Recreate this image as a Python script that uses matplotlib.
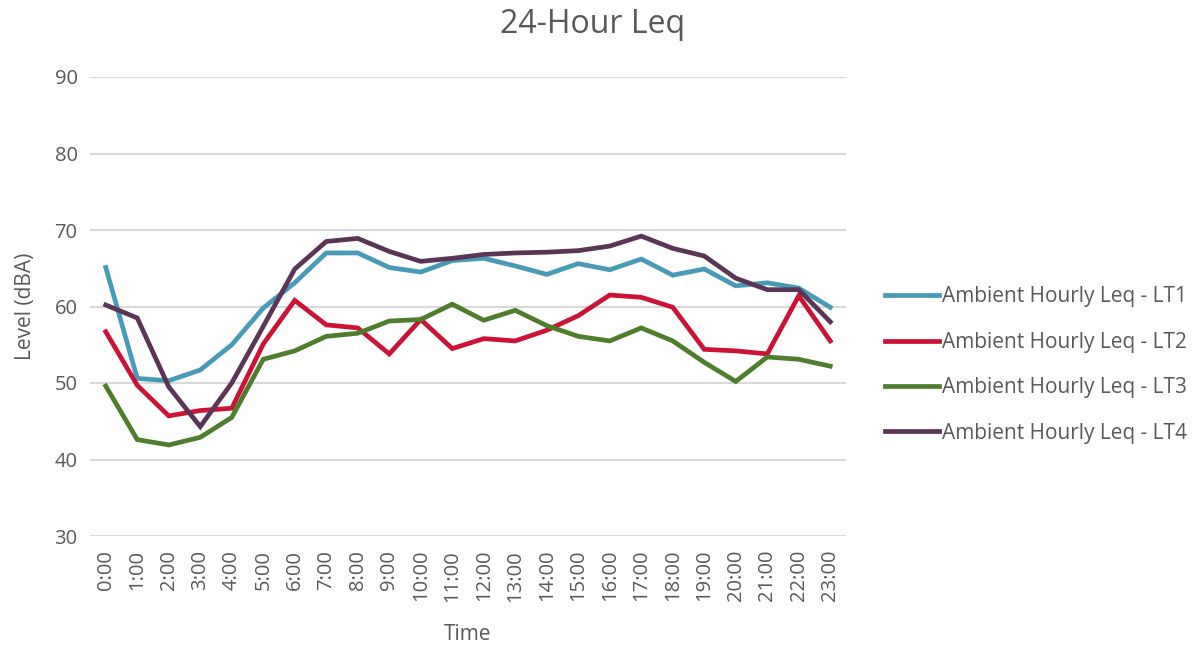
import matplotlib.pyplot as plt

hours = ['%d:00' % h for h in range(24)]

lt1 = [65.1, 50.6, 50.3, 51.7, 55.0, 59.8, 63.1, 67.0, 67.0, 65.1, 64.5, 66.0,
       66.3, 65.3, 64.2, 65.6, 64.8, 66.2, 64.1, 64.9, 62.7, 63.1, 62.4, 59.9]
lt2 = [56.7, 49.7, 45.7, 46.4, 46.7, 55.1, 60.8, 57.6, 57.2, 53.8, 58.3, 54.5,
       55.8, 55.5, 56.9, 58.8, 61.5, 61.2, 59.9, 54.4, 54.2, 53.8, 61.4, 55.5]
lt3 = [49.6, 42.6, 41.9, 42.9, 45.5, 53.1, 54.2, 56.1, 56.5, 58.1, 58.3, 60.3,
       58.2, 59.5, 57.5, 56.1, 55.5, 57.2, 55.5, 52.7, 50.2, 53.4, 53.1, 52.2]
lt4 = [60.2, 58.5, 49.5, 44.3, 50.0, 57.4, 64.9, 68.5, 68.9, 67.2, 65.9, 66.3,
       66.8, 67.0, 67.1, 67.3, 67.9, 69.2, 67.6, 66.6, 63.7, 62.2, 62.2, 58.0]

series = [
    ('Ambient Hourly Leq - LT1', lt1, '#479BB9'),
    ('Ambient Hourly Leq - LT2', lt2, '#CC1236'),
    ('Ambient Hourly Leq - LT3', lt3, '#4E7D2B'),
    ('Ambient Hourly Leq - LT4', lt4, '#5B3555'),
]

plt.rcParams['font.family'] = ['Open Sans', 'DejaVu Sans']
text_color = '#595959'

fig = plt.figure(figsize=(11.98, 6.46), dpi=100)
ax = fig.add_axes([90 / 1198, 1 - 536 / 646, 756 / 1198, 459 / 646])

x = range(len(hours))
for name, vals, col in series:
    ax.plot(x, vals, color=col, lw=3.4, label=name, solid_joinstyle='miter')

ax.set_xlim(-0.5, len(hours) - 0.5)
ax.set_ylim(30, 90)
ax.set_yticks(range(30, 91, 10))
ax.set_xticks(list(x))
ax.set_xticklabels(hours, rotation=90)
ax.tick_params(length=0, labelsize=14.5, colors=text_color)
ax.tick_params(axis='x', pad=10)
ax.tick_params(axis='y', pad=9)
ax.grid(axis='y', color='#D9D9D9', lw=1.5)
ax.set_axisbelow(True)
for s in ax.spines.values():
    s.set_visible(False)

ax.set_ylabel('Level (dBA)', fontsize=15, color=text_color, labelpad=13)
ax.set_xlabel('Time', fontsize=15, color=text_color, labelpad=16)
fig.text(0.495, 0.962, '24-Hour Leq', ha='center', va='center',
         fontsize=23, color=text_color)

leg = ax.legend(loc='center left', bbox_to_anchor=(885 / 1198, 1 - 365 / 646),
                bbox_transform=fig.transFigure, frameon=False, borderpad=0,
                borderaxespad=0, fontsize=15, handlelength=2.6,
                handletextpad=0.15, labelspacing=1.17, labelcolor=text_color)

fig.savefig('out.png', dpi=100)
